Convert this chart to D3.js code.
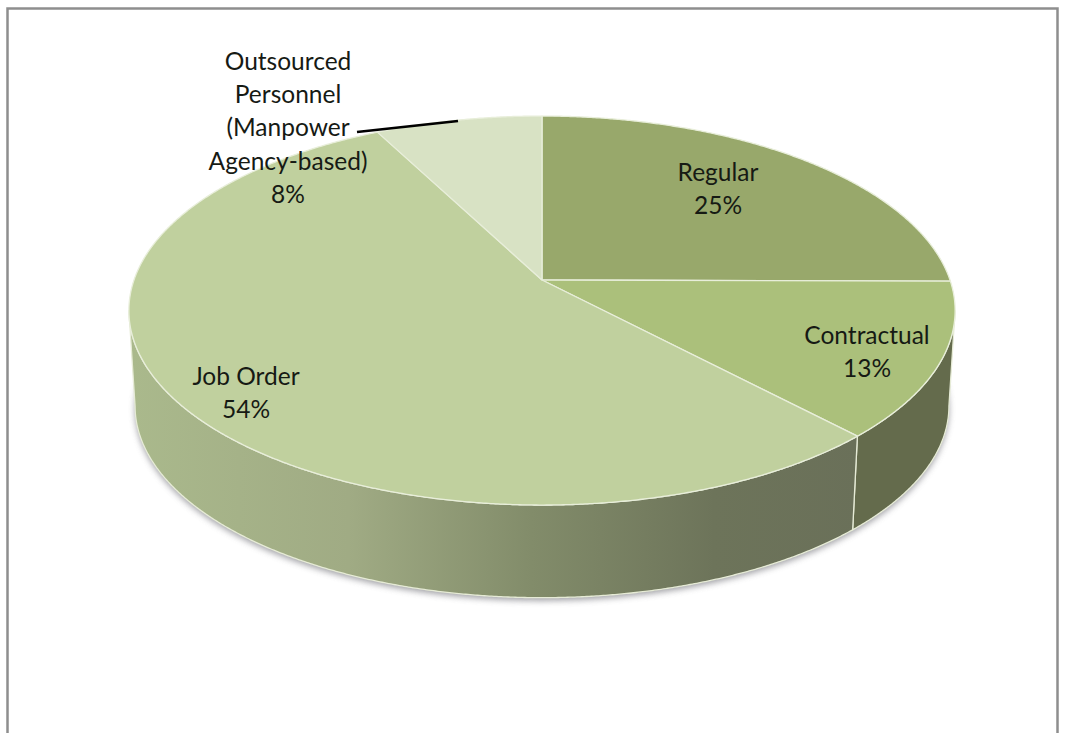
<!DOCTYPE html>
<html>
<head>
<meta charset="utf-8">
<script src="https://cdn.jsdelivr.net/npm/d3@7"></script>
<style>
  html, body { margin: 0; padding: 0; background: #fff; }
  svg { display: block; }
  text { font-family: Lato, "Open Sans", sans-serif; fill: #161a14; }
</style>
</head>
<body>
<div id="chart"></div>
<script>
// Data
const categories = ['Regular', 'Contractual', 'Job Order', 'Outsourced Personnel (Manpower Agency-based)'];
const shares = [25.1, 12.9, 54.4, 7.6];
const topColors = ['#98a86b', '#abc07b', '#c0d09e', '#d8e2c4'];
const sideColors = ['#7c8858', '#646b4c', 'url(#jobSide)', '#b0b89c'];

const width = 1065, height = 733;

const svg = d3.select('#chart').append('svg')
  .attr('width', width)
  .attr('height', height);

const defs = svg.append('defs');

// Side wall of the big slice goes from light to dark
const grad = defs.append('linearGradient')
  .attr('id', 'jobSide')
  .attr('gradientUnits', 'userSpaceOnUse')
  .attr('x1', 130).attr('x2', 860).attr('y1', 0).attr('y2', 0);
grad.append('stop').attr('offset', '0%').attr('stop-color', '#aab98c');
grad.append('stop').attr('offset', '30%').attr('stop-color', '#a0ab84');
grad.append('stop').attr('offset', '55%').attr('stop-color', '#828c6a');
grad.append('stop').attr('offset', '80%').attr('stop-color', '#6d745a');
grad.append('stop').attr('offset', '100%').attr('stop-color', '#6a7059');

defs.append('filter').attr('id', 'blur')
  .attr('x', '-5%').attr('y', '-5%').attr('width', '110%').attr('height', '110%')
  .append('feGaussianBlur').attr('stdDeviation', 3);

// Frame, the bottom edge is cut off by the picture
svg.append('path')
  .attr('d', 'M7.5,' + (height + 5) + 'V8.5H1057.5V' + (height + 5))
  .attr('fill', 'none')
  .attr('stroke', '#8e8e8e')
  .attr('stroke-width', 2.5);

// Perspective tilt of the pie, a circle seen from above
const cx = 542, cy = 280, radiusX = 408, radiusY = 189.7, tilt = 0.157;
const depth = 96, bottomScale = 0.985;

function project(angle, plane) {
  const u = Math.sin(angle), v = -Math.cos(angle);
  const k = 1 / (1 - tilt * v);
  const s = plane === 1 ? bottomScale : 1;
  return [cx + s * radiusX * u * k, cy + plane * depth + s * radiusY * v * k];
}

const line = d3.line();

function rim(a0, a1, plane) {
  return d3.range(a0, a1, 0.005).concat([a1]).map(a => project(a, plane));
}

const arcs = d3.pie().sort(null)(shares);

// Only the front part of the wall shows, from the right silhouette round to the left one
const wallFrom = Math.acos(-tilt), wallTo = 2 * Math.PI - wallFrom;

// Soft shadow under the pie
svg.append('path')
  .attr('d', line(rim(0, 2 * Math.PI, 1)) + 'Z')
  .attr('transform', 'translate(0,3)')
  .attr('fill', '#8a8a90')
  .attr('opacity', 0.8)
  .attr('filter', 'url(#blur)');

// Side walls
svg.selectAll('path.side')
  .data(arcs.filter(d => d.endAngle > wallFrom && d.startAngle < wallTo))
  .enter()
  .append('path')
  .attr('class', 'side')
  .attr('d', d => {
    const a0 = Math.max(d.startAngle, wallFrom), a1 = Math.min(d.endAngle, wallTo);
    return line(rim(a0, a1, 0).concat(rim(a0, a1, 1).reverse())) + 'Z';
  })
  .attr('fill', d => sideColors[d.index])
  .attr('stroke', '#e6ebd6')
  .attr('stroke-width', 1.3)
  .attr('stroke-linejoin', 'round');

// Top face
svg.selectAll('path.top')
  .data(arcs)
  .enter()
  .append('path')
  .attr('class', 'top')
  .attr('d', d => line([[cx, cy]].concat(rim(d.startAngle, d.endAngle, 0))) + 'Z')
  .attr('fill', d => topColors[d.index])
  .attr('stroke', '#e8eeda')
  .attr('stroke-width', 1.3)
  .attr('stroke-linejoin', 'round');

// Leader line for the outsourced slice
svg.append('line')
  .attr('x1', 357).attr('y1', 132)
  .attr('x2', 458).attr('y2', 121)
  .attr('stroke', '#000')
  .attr('stroke-width', 2.6);

// Labels, each with its own wrapping and spot
const labelLines = [['Regular'], ['Contractual'], ['Job Order'], ['Outsourced', 'Personnel', '(Manpower', 'Agency-based)']];
const labelSpots = [[718, 181], [867, 344], [246, 385], [288, 70]];

labelLines.forEach((rows, i) => {
  const t = svg.append('text')
    .attr('text-anchor', 'middle')
    .style('font-size', '24.5px');
  rows.concat([Math.round(shares[i]) + '%']).forEach((row, j) => {
    t.append('tspan')
      .attr('x', labelSpots[i][0])
      .attr('y', labelSpots[i][1] + j * 33.2)
      .text(row);
  });
});
</script>
</body>
</html>
